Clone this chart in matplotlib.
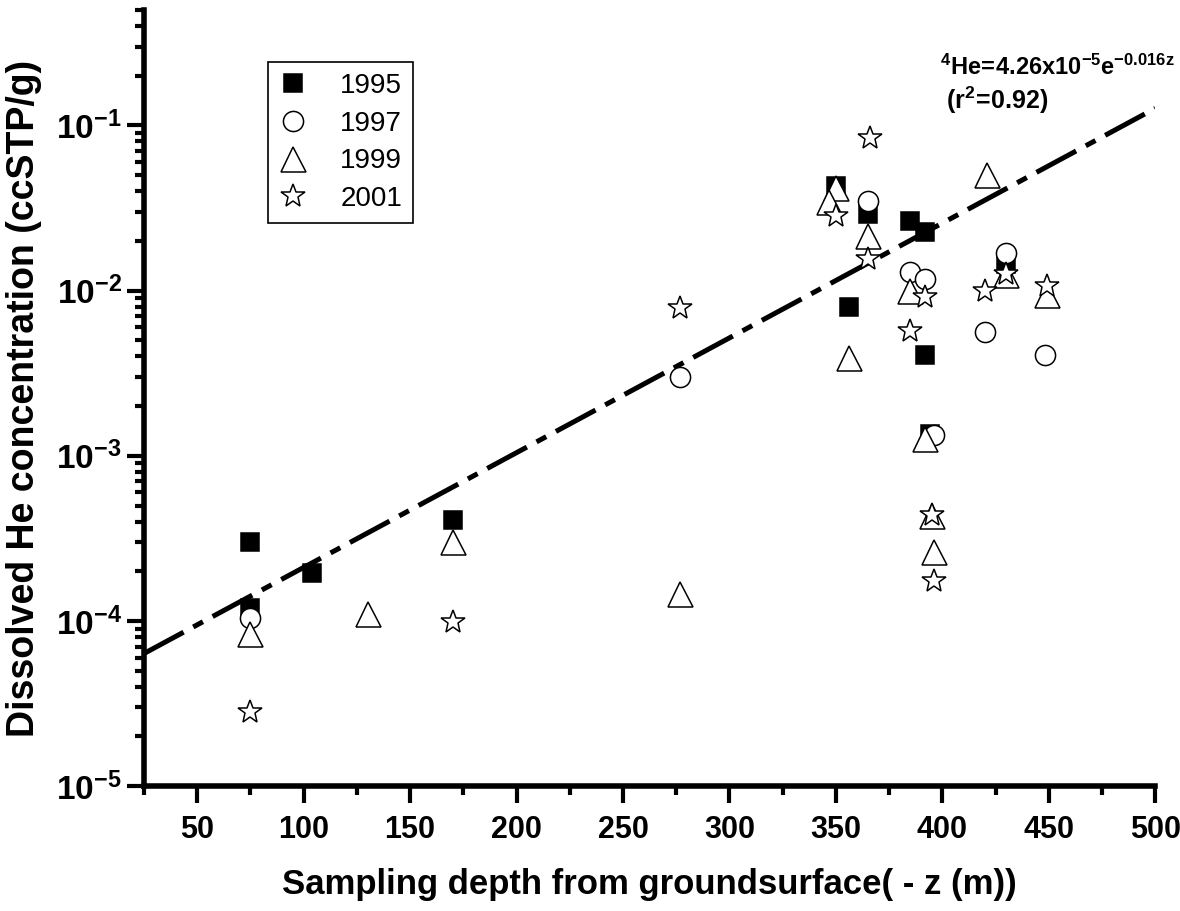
import numpy as np
import matplotlib
matplotlib.use("Agg")
import matplotlib.pyplot as plt
from matplotlib.ticker import LogLocator, MultipleLocator, FixedLocator, NullFormatter

# -------------------------------------------------------------------
# data (depth in m, He in ccSTP/g)
x_1995 = [75, 75, 104, 170, 350, 365, 356, 385, 392, 392, 394, 430]
y_1995 = [3.0e-4, 1.2e-4, 1.96e-4, 4.07e-4, 4.3e-2, 2.9e-2, 8.0e-3, 2.65e-2, 2.25e-2, 4.05e-3, 1.35e-3, 1.45e-2]

x_1997 = [75, 277, 365, 385, 392, 420, 430, 448, 396]
y_1997 = [1.05e-4, 3.0e-3, 3.5e-2, 1.3e-2, 1.18e-2, 5.6e-3, 1.7e-2, 4.1e-3, 1.33e-3]

x_1999 = [75, 130, 170, 277, 350, 347, 365, 356, 385, 421, 430, 449, 392, 395, 396]
y_1999 = [8.4e-5, 1.1e-4, 3.0e-4, 1.46e-4, 4.2e-2, 3.45e-2, 2.15e-2, 3.9e-3, 1.0e-2, 5.0e-2, 1.24e-2, 9.4e-3, 1.26e-3, 4.3e-4, 2.6e-4]

x_2001 = [75, 170, 277, 366, 350, 365, 385, 392, 420, 430, 449, 395, 396]
y_2001 = [2.8e-5, 9.9e-5, 7.9e-3, 8.4e-2, 2.85e-2, 1.56e-2, 5.7e-3, 9.1e-3, 1.0e-2, 1.27e-2, 1.07e-2, 4.4e-4, 1.75e-4]

# fit: 4He = 4.26e-5 * exp(0.016 * depth)
fit_a = 4.26e-5
fit_b = 0.016
fit_x = np.array([25, 500])

x_ticks = [50, 100, 150, 200, 250, 300, 350, 400, 450, 500]
y_decades = [-5, -4, -3, -2, -1]

# -------------------------------------------------------------------
plt.rcParams["font.family"] = ["Liberation Sans", "DejaVu Sans"]
plt.rcParams["mathtext.fontset"] = "custom"
plt.rcParams["mathtext.rm"] = "Liberation Sans:bold"
plt.rcParams["mathtext.bf"] = "Liberation Sans:bold"
plt.rcParams["mathtext.it"] = "Liberation Sans:bold"

fig = plt.figure(figsize=(11.8, 9.11), dpi=100)
ax = fig.add_axes([0.122, 0.137, 0.857, 0.852])

ax.plot(fit_x, fit_a * np.exp(fit_b * fit_x), color="black", lw=3.6,
        dashes=(9.0, 2.2, 2.2, 2.2), dash_capstyle="butt", zorder=1)

mk = dict(ls="none", mec="black", mew=1.1, zorder=3)
ax.plot(x_1995, y_1995, marker="s", ms=12.5, mfc="black", label="1995", **mk)
ax.plot(x_1997, y_1997, marker="o", ms=14.5, mfc="white", label="1997", **mk)
ax.plot(x_1999, y_1999, marker="^", ms=18, mfc="white", label="1999", **mk)
ax.plot(x_2001, y_2001, marker="*", ms=18, mfc="white", label="2001", **mk)

ax.set_yscale("log")
ax.set_xlim(25, 500)
ax.set_ylim(1e-5, 0.5)

for s in ["top", "right"]:
    ax.spines[s].set_visible(False)
for s in ["left", "bottom"]:
    ax.spines[s].set_linewidth(4)

ax.xaxis.set_major_locator(FixedLocator(x_ticks))
ax.xaxis.set_minor_locator(MultipleLocator(25))
ax.set_xticklabels([str(t) for t in x_ticks])
ax.yaxis.set_major_locator(FixedLocator([10.0 ** d for d in y_decades]))
ax.set_yticklabels([r"$\mathbf{10^{%d}}$" % d for d in y_decades])
ax.yaxis.set_minor_locator(LogLocator(base=10, subs=np.arange(2, 10), numticks=20))
ax.yaxis.set_minor_formatter(NullFormatter())

ax.tick_params(which="major", length=12, width=3, direction="out")
ax.tick_params(which="minor", length=6.5, width=3, direction="out")
ax.tick_params(axis="x", which="major", labelsize=22, pad=9)
ax.tick_params(axis="y", which="major", labelsize=24, pad=4)
for lab in ax.get_xticklabels():
    lab.set_fontweight("bold")

ax.set_xlabel("Sampling depth from groundsurface( - z (m))", fontsize=25,
              fontweight="bold", labelpad=16)
ax.set_ylabel("Dissolved He concentration (ccSTP/g)", fontsize=27,
              fontweight="bold", labelpad=10)

leg = ax.legend(loc="upper left", bbox_to_anchor=(0.1227, 0.933), frameon=True,
                fancybox=False, edgecolor="black", framealpha=1,
                prop={"family": "Liberation Sans", "size": 20},
                handlelength=1.0, handletextpad=1.2, labelspacing=0.42,
                borderpad=0.4, borderaxespad=0)
leg.get_frame().set_linewidth(1.2)

ax.text(0.787, 0.916, r"$\mathbf{^4He\!=\!4.26x10^{-5}e^{-0.016z}}$",
        transform=ax.transAxes, fontsize=17, ha="left", va="baseline")
ax.text(0.793, 0.873, r"$\mathbf{(r^2\!=\!0.92)}$",
        transform=ax.transAxes, fontsize=18, ha="left", va="baseline")

fig.savefig("out.png", dpi=100)
